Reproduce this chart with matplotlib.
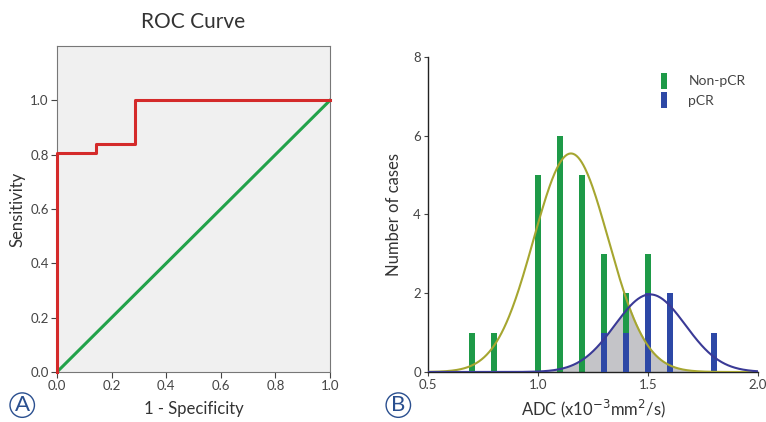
import matplotlib
matplotlib.use("Agg")
import matplotlib.pyplot as plt
import numpy as np

plt.rcParams['font.family'] = ['Lato', 'DejaVu Sans']

# ROC curve points (A)
fpr = [0.0, 0.0, 0.143, 0.143, 0.286, 0.286, 1.0]
tpr = [0.0, 0.806, 0.806, 0.839, 0.839, 1.0, 1.0]

# histogram (B)
adc_bins = [0.7, 0.8, 1.0, 1.1, 1.2, 1.3, 1.4, 1.5]
non_pcr = [1, 1, 5, 6, 5, 3, 2, 3]
pcr_bins = [1.3, 1.4, 1.5, 1.6, 1.8]
pcr = [1, 1, 2, 2, 1]

# fitted normal curves: mean, sd, peak height
non_pcr_fit = (1.15, 0.17, 5.55)
pcr_fit = (1.51, 0.16, 1.97)

fig = plt.figure(figsize=(7.66, 4.22), dpi=100)

# ---- A: ROC ----
ax1 = fig.add_axes([0.0744, 0.1185, 0.3564, 0.7725])
ax1.set_facecolor('#f0f0f0')
ax1.plot([0, 1], [0, 1], color='#22a24a', lw=2.2)
ax1.plot(fpr, tpr, color='#d42a2a', lw=2.2, clip_on=False, zorder=3)
ax1.set_xlim(0, 1)
ax1.set_ylim(0, 1.2)
ax1.set_xticks(np.arange(0, 1.01, 0.2))
ax1.set_yticks(np.arange(0, 1.01, 0.2))
ax1.set_xticklabels([f"{v:.1f}" for v in np.arange(0, 1.01, 0.2)])
ax1.set_yticklabels([f"{v:.1f}" for v in np.arange(0, 1.01, 0.2)])
for s in ax1.spines.values():
    s.set_color('#777777')
    s.set_linewidth(0.8)
ax1.tick_params(labelsize=9.5, colors='#444444', length=4, width=0.8, pad=2)
ax1.set_title("ROC Curve", fontsize=15, color='#333333', pad=13)
ax1.set_xlabel("1 - Specificity", fontsize=12, color='#333333', labelpad=6)
ax1.set_ylabel("Sensitivity", fontsize=12, color='#333333', labelpad=3)

# ---- B: histogram ----
ax2 = fig.add_axes([0.5587, 0.1185, 0.4308, 0.7465])
x = np.linspace(0.5, 2.0, 400)
m, sd, h = non_pcr_fit
g_curve = h * np.exp(-(x - m) ** 2 / (2 * sd ** 2))
m, sd, h = pcr_fit
b_curve = h * np.exp(-(x - m) ** 2 / (2 * sd ** 2))

ax2.fill_between(x, 0, np.minimum(g_curve, b_curve), color='#c4c4c8', zorder=1)
ax2.bar(adc_bins, non_pcr, width=0.03, color='#1e9a48', label='Non-pCR', zorder=2)
ax2.bar(pcr_bins, pcr, width=0.03, color='#2d48a6', label='pCR', zorder=3)
ax2.plot(x, g_curve, color='#a6a630', lw=1.5, zorder=4)
ax2.plot(x, b_curve, color='#3a3a96', lw=1.5, zorder=4)

ax2.set_xlim(0.5, 2.0)
ax2.set_ylim(0, 8)
ax2.set_xticks([0.5, 1.0, 1.5, 2.0])
ax2.set_xticklabels(["0.5", "1.0", "1.5", "2.0"])
ax2.set_yticks([0, 2, 4, 6, 8])
ax2.spines['top'].set_visible(False)
ax2.spines['right'].set_visible(False)
for s in ['left', 'bottom']:
    ax2.spines[s].set_color('#222222')
    ax2.spines[s].set_linewidth(1.0)
ax2.tick_params(labelsize=9.5, colors='#444444', length=3, width=0.8, pad=2)
ax2.set_xlabel("ADC (x10$^{-3}$mm$^{2}$/s)", fontsize=12, color='#333333', labelpad=5)
ax2.set_ylabel("Number of cases", fontsize=12, color='#333333', labelpad=8)
ax2.legend(loc='upper right', bbox_to_anchor=(1.0, 0.99), frameon=False, fontsize=10,
           handlelength=0.5, handleheight=1.4, labelspacing=0.25, handletextpad=1.5,
           labelcolor='#444444')

# panel letters
for lx, letter in [(0.029, "A"), (0.52, "B")]:
    fig.text(lx, 0.04, letter, fontsize=16, color='#2a4f8f', ha='center', va='center',
             bbox=dict(boxstyle='circle,pad=0.1', fc='none', ec='#2a4f8f', lw=1.0))

fig.savefig("out.png", dpi=100)
